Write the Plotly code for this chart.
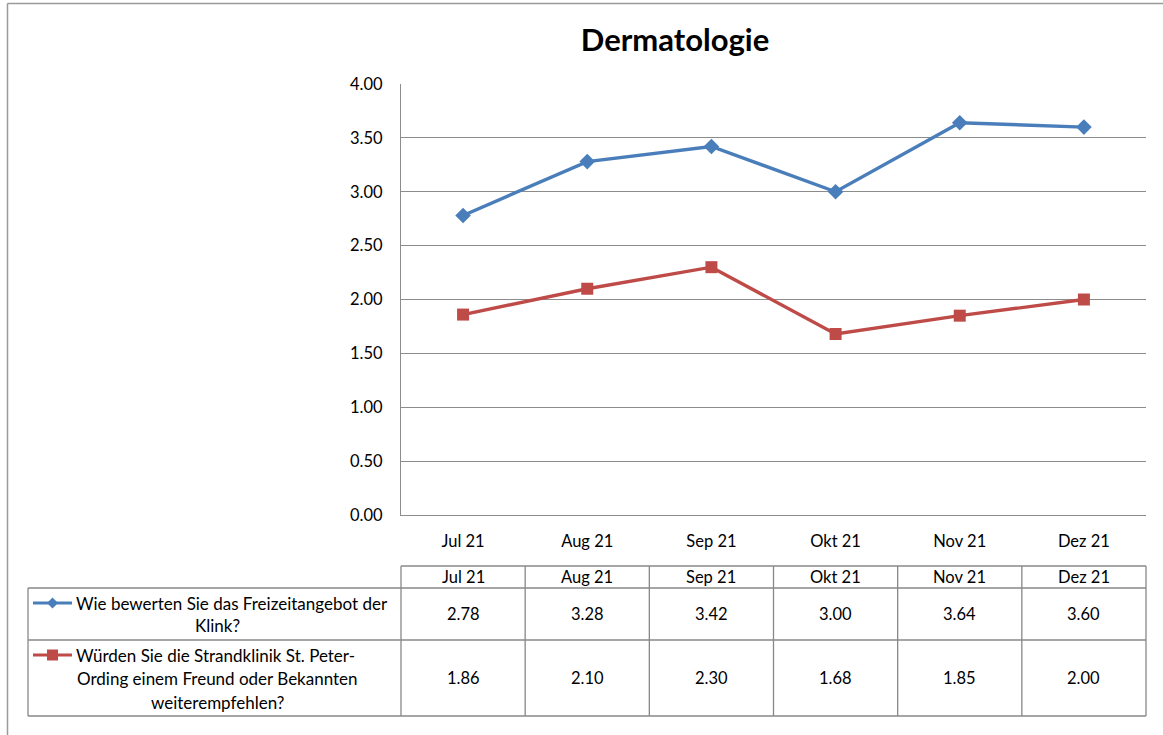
import plotly.graph_objects as go

months = ["Jul 21", "Aug 21", "Sep 21", "Okt 21", "Nov 21", "Dez 21"]
freizeit = [2.78, 3.28, 3.42, 3.00, 3.64, 3.60]
empfehlung = [1.86, 2.10, 2.30, 1.68, 1.85, 2.00]
series_names = [
    "Wie bewerten Sie das Freizeitangebot der Klink?",
    "Würden Sie die Strandklinik St. Peter-Ording einem Freund oder Bekannten weiterempfehlen?",
]
legend_lines = [
    ["Wie bewerten Sie das Freizeitangebot der", "Klink?"],
    ["Würden Sie die Strandklinik St. Peter-", "Ording einem Freund oder Bekannten", "weiterempfehlen?"],
]
y_ticks = [0, 0.5, 1.0, 1.5, 2.0, 2.5, 3.0, 3.5, 4.0]

W, H = 1163, 735
BLUE = "#4A7EBB"
RED = "#BE4B48"
GRID = "#8C8C8C"
FONT = "Lato"
FS = 16.5

def px(x):
    return x / W

def py(y):
    return 1 - y / H

fig = go.Figure()
fig.add_trace(go.Scatter(x=months, y=freizeit, mode="lines+markers", name=series_names[0],
                         line=dict(color=BLUE, width=3.4),
                         marker=dict(symbol="diamond", size=12, color=BLUE)))
fig.add_trace(go.Scatter(x=months, y=empfehlung, mode="lines+markers", name=series_names[1],
                         line=dict(color=RED, width=3.4),
                         marker=dict(symbol="square", size=12, color=RED)))

shapes = []
annotations = []

# outer frame (left and top)
shapes.append(dict(type="line", xref="paper", yref="paper", x0=px(7.5), x1=px(7.5), y0=0, y1=py(3.5),
                   line=dict(color="#9A9A9A", width=1.5)))
shapes.append(dict(type="line", xref="paper", yref="paper", x0=px(7.5), x1=1, y0=py(3.5), y1=py(3.5),
                   line=dict(color="#9A9A9A", width=1.5)))

# data table grid
L, R = 401, 1146
top_h, mid1, mid2, bot = 566, 588, 640, 716
LEFT = 28
col_w = (R - L) / len(months)
tl = dict(color="#888888", width=1.3)
shapes.append(dict(type="line", xref="paper", yref="paper", x0=px(L), x1=px(R), y0=py(top_h), y1=py(top_h), line=tl))
for yy in (mid1, mid2, bot):
    shapes.append(dict(type="line", xref="paper", yref="paper", x0=px(LEFT), x1=px(R), y0=py(yy), y1=py(yy), line=tl))
shapes.append(dict(type="line", xref="paper", yref="paper", x0=px(LEFT), x1=px(LEFT), y0=py(mid1), y1=py(bot), line=tl))
for i in range(len(months) + 1):
    xx = L + i * col_w
    shapes.append(dict(type="line", xref="paper", yref="paper", x0=px(xx), x1=px(xx), y0=py(top_h), y1=py(bot), line=tl))

tf = dict(size=FS, color="black", family=FONT)
lf = dict(size=17, color="black", family=FONT)

# header and values
for m, a, b in zip(months, freizeit, empfehlung):
    for yy, t in ((577, m), (614, f"{a:.2f}"), (678, f"{b:.2f}")):
        annotations.append(dict(x=m, xref="x", y=py(yy), yref="paper", text=t, showarrow=False,
                                xanchor="center", yanchor="middle", font=tf))

# legend keys in table
line_ys = [[603, 625], [655, 678, 702]]
colors = [BLUE, RED]
for k in range(2):
    ys = line_ys[k]
    c = colors[k]
    shapes.append(dict(type="line", xref="paper", yref="paper", x0=px(33), x1=px(72), y0=py(ys[0]), y1=py(ys[0]),
                       line=dict(color=c, width=3)))
    cx, cy = 52.5, ys[0]
    d = 5.5
    if k == 0:
        path = (f"M {px(cx - d)} {py(cy)} L {px(cx)} {py(cy - d)} L {px(cx + d)} {py(cy)} "
                f"L {px(cx)} {py(cy + d)} Z")
        shapes.append(dict(type="path", xref="paper", yref="paper", path=path, fillcolor=c, line=dict(width=0)))
    else:
        shapes.append(dict(type="rect", xref="paper", yref="paper", x0=px(cx - d), x1=px(cx + d),
                           y0=py(cy + d), y1=py(cy - d), fillcolor=c, line=dict(width=0)))
    lines = legend_lines[k]
    annotations.append(dict(x=px(74), xref="paper", y=py(ys[0]), yref="paper", text=lines[0], showarrow=False,
                            xanchor="left", yanchor="middle", font=lf))
    for t, yy in zip(lines[1:], ys[1:]):
        annotations.append(dict(x=px(217), xref="paper", y=py(yy), yref="paper", text=t, showarrow=False,
                                xanchor="center", yanchor="middle", font=lf))

fig.update_layout(
    width=W, height=H,
    margin=dict(l=0, r=0, t=0, b=0, pad=0, autoexpand=False),
    paper_bgcolor="white", plot_bgcolor="white",
    showlegend=False,
    title=dict(text="<b>Dermatologie</b>", x=px(675), xanchor="center", y=py(40), yanchor="middle",
               font=dict(size=31, color="black", family=FONT), automargin=False),
    font=dict(family=FONT, size=FS, color="black"),
    xaxis=dict(domain=[px(L), px(R)], type="category", range=[-0.5, 5.5], automargin=False,
               showgrid=False, showline=True, linecolor=GRID, linewidth=1.3,
               ticks="outside", ticklen=0, ticklabelstandoff=11,
               tickfont=tf),
    yaxis=dict(domain=[py(515), py(84)], range=[0, 4], tickvals=y_ticks, tickformat=".2f", automargin=False,
               showgrid=True, gridcolor=GRID, gridwidth=1.3, showline=True, linecolor=GRID, linewidth=1.3,
               zeroline=False, ticks="outside", ticklen=0, ticklabelstandoff=14,
               tickfont=tf),
    shapes=shapes,
    annotations=annotations,
)

fig.write_html("out.html", config={"displayModeBar": False},
               post_script="document.body.style.margin='0';document.body.style.overflow='hidden';")
